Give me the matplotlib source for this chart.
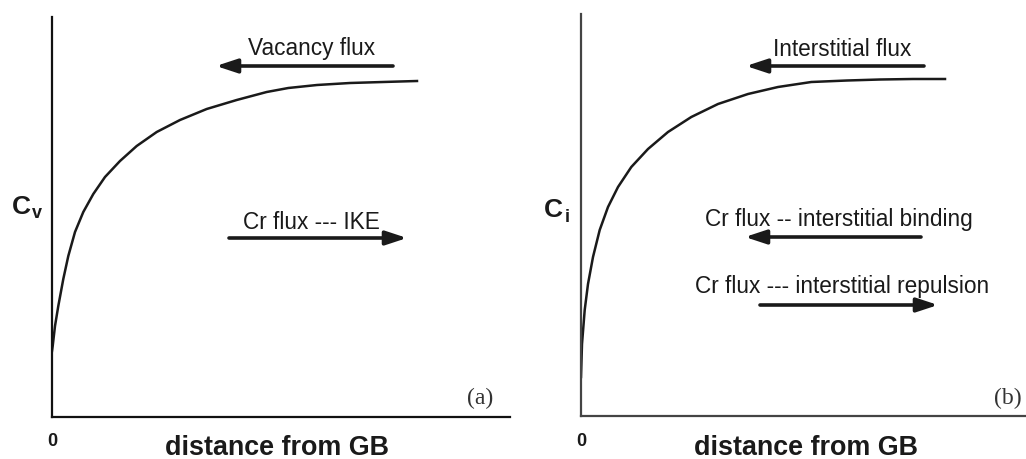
import matplotlib.pyplot as plt

W, H = 1026, 460
SANS = "Liberation Sans"
SERIF = "Liberation Serif"
INK = "#1a1a1a"

# Profile near the grain boundary: distance (arbitrary units) vs concentration
vac_dist = [0, 0.7, 3, 6.3, 11.3, 16.3, 23, 31.3, 41.3, 53, 68, 84.7, 104.7,
            128, 154.7, 184.7, 214.7, 236.3, 265, 298, 331, 365]
vac_conc = [66, 71, 91, 111, 138, 161, 185, 205, 223, 240, 256, 271, 285,
            297, 308, 317, 325, 329, 332, 334, 335, 336]

int_dist = [0, 1, 3.7, 7, 12, 18.7, 27, 37, 50.3, 67, 87, 110.3, 137, 167,
            197, 230.3, 266, 299, 332, 364]
int_conc = [39, 72, 106, 132, 159, 186, 209, 229, 249, 267, 284, 299, 312,
            322, 329, 334, 335.5, 336.5, 337, 337]

fig = plt.figure(figsize=(W / 100, H / 100), dpi=100)


def px_axes(left, top, right, bottom):
    return fig.add_axes([left / W, 1 - bottom / H, (right - left) / W,
                         (bottom - top) / H])


def setup(ax, xmax, ymax, spine_color):
    ax.set_xlim(0, xmax)
    ax.set_ylim(0, ymax)
    for s in ("top", "right"):
        ax.spines[s].set_visible(False)
    for s in ("left", "bottom"):
        ax.spines[s].set_linewidth(1.6)
        ax.spines[s].set_color(spine_color)
    ax.set_xticks([])
    ax.set_yticks([])
    ax.patch.set_alpha(0)


def arrow(ax, x0, x1, y):
    ax.annotate("", xy=(x1, y), xytext=(x0, y),
                arrowprops=dict(arrowstyle="-|>,head_length=0.85,head_width=0.28",
                                lw=2.6, color=INK, mutation_scale=15,
                                shrinkA=0, shrinkB=0))


def label(ax, x, y, s):
    ax.text(x, y, s, ha="center", va="center", fontsize=16.3, family=SANS,
            color=INK)


# Panel (a): vacancies
axa = px_axes(52, 18, 510, 418)
setup(axa, 458, 400, "#111111")
axa.plot(vac_dist, vac_conc, color=INK, lw=1.8, solid_joinstyle="round")
label(axa, 260, 369, "Vacancy flux")
arrow(axa, 341, 164, 351)
label(axa, 259, 195, "Cr flux --- IKE")
arrow(axa, 177, 355, 179)
axa.text(428, 20, "(a)", ha="center", va="center", fontsize=17, family=SERIF,
         color="#333333")

# Panel (b): interstitials
axb = px_axes(581, 15, 1026, 417)
setup(axb, 445, 402, "#444444")
axb.plot(int_dist, int_conc, color=INK, lw=1.8, solid_joinstyle="round")
label(axb, 261, 368, "Interstitial flux")
arrow(axb, 343, 165, 350)
label(axb, 258, 197, "Cr flux -- interstitial binding")
arrow(axb, 340, 164, 179)
label(axb, 261, 131, "Cr flux --- interstitial repulsion")
arrow(axb, 179, 357, 111)
axb.text(427, 19, "(b)", ha="center", va="center", fontsize=17, family=SERIF,
         color="#333333")


def ftext(px, py, s, **kw):
    fig.text(px / W, 1 - py / H, s, family=SANS, color=INK, **kw)


# Axis labels, origin marks and y symbols
for cx, ox in ((277, 52), (806, 581)):
    ftext(cx, 448, "distance from GB", ha="center", va="center",
          fontsize=19.4, fontweight="bold")
    ftext(ox, 442, "0", ha="center", va="center", fontsize=13,
          fontweight="bold")

ftext(21, 207, "C", ha="center", va="center", fontsize=19, fontweight="bold")
ftext(37, 214, "v", ha="center", va="center", fontsize=13, fontweight="bold")
ftext(553, 210, "C", ha="center", va="center", fontsize=19, fontweight="bold")
ftext(567, 217, "i", ha="center", va="center", fontsize=13, fontweight="bold")

fig.savefig("out.png", dpi=100)
